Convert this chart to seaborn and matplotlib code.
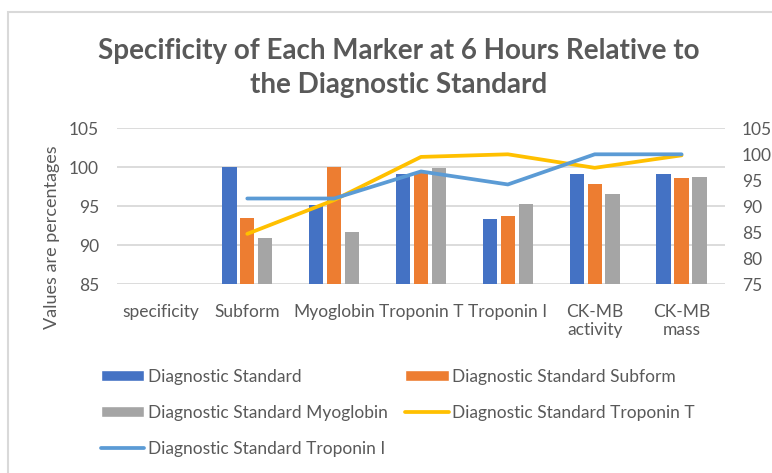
import numpy as np
import pandas as pd
import matplotlib
matplotlib.use("Agg")
import matplotlib.pyplot as plt
import seaborn as sns
from matplotlib.patches import Patch, Rectangle
from matplotlib.lines import Line2D

# data
categories = ["specificity", "Subform", "Myoglobin", "Troponin T", "Troponin I",
              "CK-MB\nactivity", "CK-MB\nmass"]
standard = [np.nan, 100, 95.2, 99.2, 93.4, 99.2, 99.2]
subform = [np.nan, 93.5, 100, 99.3, 93.8, 97.8, 98.6]
myoglobin = [np.nan, 90.9, 91.7, 99.9, 95.3, 96.6, 98.8]
troponin_t = [np.nan, 84.7, 91.2, 99.5, 100, 97.4, 99.8]
troponin_i = [np.nan, 91.5, 91.5, 96.7, 94.2, 100, 100]

bar_series = ["Diagnostic Standard", "Diagnostic Standard Subform",
              "Diagnostic Standard Myoglobin"]
line_series = ["Diagnostic Standard Troponin T", "Diagnostic Standard Troponin I"]
bar_colors = ["#4472C4", "#ED7D31", "#A5A5A5"]
line_colors = ["#FFC000", "#5B9BD5"]
text_color = "#595959"

sns.set_style("white")
plt.rcParams["font.family"] = ["Lato", "DejaVu Sans"]

df = pd.DataFrame({
    "marker": categories * 3,
    "series": np.repeat(bar_series, len(categories)),
    "value": standard + subform + myoglobin,
})

fig = plt.figure(figsize=(7.72, 4.73), dpi=100)
ax = fig.add_axes([117 / 772, 1 - 284.3 / 473, 608 / 772, 156 / 473])

sns.barplot(data=df, x="marker", y="value", hue="series", order=categories,
            hue_order=bar_series, palette=bar_colors, saturation=1,
            width=0.62, gap=0.2, ax=ax, legend=False, linewidth=0)
ax.set_ylim(85, 105)
ax.set_yticks(np.arange(85, 106, 5))
ax.set_xlim(-0.5, len(categories) - 0.5)
ax.grid(axis="y", color="#d9d9d9", linewidth=1.3)
ax.set_axisbelow(True)
for s in ax.spines.values():
    s.set_visible(False)
ax.tick_params(axis="both", length=0, labelsize=12.5, labelcolor=text_color)
ax.tick_params(axis="y", pad=13)
ax.tick_params(axis="x", pad=14)
ax.set_xlabel("")
ax.set_ylabel("Values are percentages", fontsize=13, color=text_color)
ax.yaxis.set_label_coords(-0.093, 0.3)

ax2 = ax.twinx()
x_pos = np.arange(len(categories))
sns.lineplot(x=x_pos, y=troponin_t, ax=ax2, color=line_colors[0], linewidth=2.7,
             solid_capstyle="round")
sns.lineplot(x=x_pos, y=troponin_i, ax=ax2, color=line_colors[1], linewidth=2.7,
             solid_capstyle="round")
ax2.set_ylim(75, 105)
ax2.set_yticks(np.arange(75, 106, 5))
ax2.set_xlim(-0.5, len(categories) - 0.5)
for s in ax2.spines.values():
    s.set_visible(False)
ax2.tick_params(axis="y", length=0, labelsize=12.5, labelcolor=text_color, pad=12)
ax2.set_ylabel("")

fig.text(0.516, 1 - 68 / 473,
         "Specificity of Each Marker at 6 Hours Relative to\nthe Diagnostic Standard",
         ha="center", va="center", fontsize=20, fontweight="bold",
         color=text_color, linespacing=1.4)

# legend, filled column-wise so rows read like the reference
h_std = Patch(facecolor=bar_colors[0], label=bar_series[0])
h_sub = Patch(facecolor=bar_colors[1], label=bar_series[1])
h_myo = Patch(facecolor=bar_colors[2], label=bar_series[2])
h_tt = Line2D([], [], color=line_colors[0], lw=2.7, solid_capstyle="round", label=line_series[0])
h_ti = Line2D([], [], color=line_colors[1], lw=2.7, solid_capstyle="round", label=line_series[1])
handles = [h_std, h_myo, h_ti, h_sub, h_tt]
leg = fig.legend(handles=handles, loc="upper left", bbox_to_anchor=(101 / 772, 1 - 369 / 473),
                 ncol=2, frameon=False, fontsize=12.5, handlelength=2.5, handleheight=0.6,
                 handletextpad=0.2, columnspacing=1.0, labelspacing=1.15,
                 borderpad=0, borderaxespad=0)
for t in leg.get_texts():
    t.set_color(text_color)

fig.patches.append(Rectangle((8 / 772, -0.1), 2, 0.1 + 1 - 12 / 473, transform=fig.transFigure,
                             fill=False, edgecolor="#d9d9d9", linewidth=1.5))

fig.savefig("out.png", dpi=100)
